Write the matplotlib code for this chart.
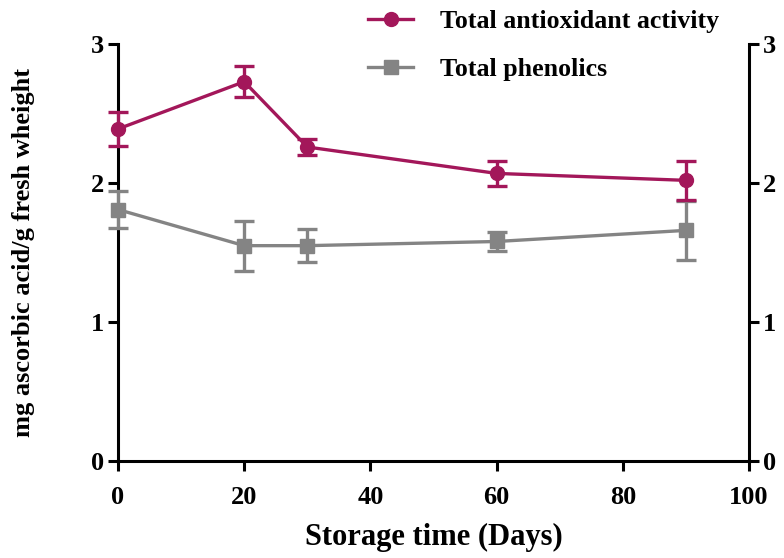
import matplotlib
matplotlib.use("Agg")
import matplotlib.pyplot as plt
from matplotlib.lines import Line2D

days = [0, 20, 30, 60, 90]
antioxidant = [2.39, 2.73, 2.26, 2.07, 2.02]
antioxidant_err = [0.12, 0.11, 0.06, 0.09, 0.14]
phenolics = [1.81, 1.55, 1.55, 1.58, 1.66]
phenolics_err = [0.13, 0.18, 0.12, 0.07, 0.21]
xticks = [0, 20, 40, 60, 80, 100]
yticks = [0, 1, 2, 3]
series_names = ['Total antioxidant activity', 'Total phenolics']

plt.rcParams['font.family'] = ['Liberation Serif', 'DejaVu Serif']
plt.rcParams['font.weight'] = 'bold'

c1 = '#A3175A'
c2 = '#848484'

fig = plt.figure(figsize=(7.84, 5.58), dpi=100)
ax = fig.add_axes([0.1505, 0.1738, 0.805, 0.747])

ax.errorbar(days, antioxidant, yerr=antioxidant_err, color=c1, lw=2.4, marker='o', ms=10,
            capsize=7, capthick=2.4, elinewidth=2.4, clip_on=False, zorder=4)
ax.errorbar(days, phenolics, yerr=phenolics_err, color=c2, lw=2.4, marker='s', ms=10,
            capsize=7, capthick=2.4, elinewidth=2.4, clip_on=False, zorder=3)

ax.set_xlim(0, 100)
ax.set_ylim(0, 3)
ax.set_xticks(xticks)
ax.set_yticks(yticks)
ax.spines['top'].set_visible(False)
for s in ['left', 'bottom', 'right']:
    ax.spines[s].set_linewidth(2.2)
ax.tick_params(axis='both', width=2.2, length=7, labelsize=19, direction='out')
ax.tick_params(axis='x', pad=11)
ax.tick_params(axis='y', right=True, labelright=True, pad=3)

ax.set_xlabel('Storage time (Days)', fontsize=22, fontweight='bold', labelpad=10)
ax.set_ylabel('mg ascorbic acid/g fresh wheight', fontsize=19, fontweight='bold', labelpad=40)

h1 = Line2D([], [], color=c1, lw=2.4, marker='o', ms=10)
h2 = Line2D([], [], color=c2, lw=2.4, marker='s', ms=10)
fig.legend(handles=[h1, h2], labels=series_names, loc='upper left',
           bbox_to_anchor=(368 / 784, 1 - 10 / 558), frameon=False,
           prop={'weight': 'bold', 'size': 18.6}, handlelength=1.75, labelspacing=0.95,
           handletextpad=1.05, borderpad=0, borderaxespad=0)

fig.savefig('out.png', dpi=100)
